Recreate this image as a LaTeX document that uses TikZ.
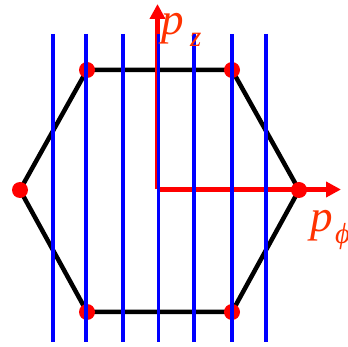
\documentclass[tikz,border=0pt]{standalone}
\usepackage{fontspec}
\setmainfont{Liberation Serif}
\usetikzlibrary{arrows.meta}
\definecolor{lblred}{RGB}{255,50,0}
\tikzset{
  hexline/.style={line width=4.5pt, black, line join=miter},
  vdot/.style={circle, fill=red, inner sep=0pt, minimum size=16pt},
  axisline/.style={line width=4.5pt, red, -{Triangle[length=15pt,width=15pt]}},
  cutline/.style={line width=3.5pt, blue},
  biglbl/.style={anchor=base west, inner sep=0pt, text=lblred, font=\fontsize{45}{45}\selectfont\itshape},
  sublbl/.style={anchor=base west, inner sep=0pt, text=lblred, font=\fontsize{29}{29}\selectfont\itshape}
}
\begin{document}
\begin{tikzpicture}[x=1pt,y=-1pt]
\useasboundingbox (0,0) rectangle (348,347);
% hexagon vertices
\coordinate (L) at (20,190);
\coordinate (TL) at (87,70);
\coordinate (TR) at (232,70);
\coordinate (R) at (299,190);
\coordinate (BR) at (232,312);
\coordinate (BL) at (87,312);
\draw[hexline] (L) -- (TL) -- (TR) -- (R) -- (BR) -- (BL) -- cycle;
\foreach \v in {L,TL,TR,R,BR,BL} \node[vdot] (d\v) at (\v) {};
% axes
\coordinate (O) at (157.5,189.5);
\coordinate (Ztip) at (157.5,4);
\coordinate (Ptip) at (341,189.5);
\draw[axisline] (O) -- (Ztip);
\draw[axisline] (O) -- (Ptip);
% blue lines
\foreach \x [count=\i] in {53,86,123,158.5,194,232,266} {
  \coordinate (b\i t) at (\x,34);
  \coordinate (b\i b) at (\x,342);
  \draw[cutline] (b\i t) -- (b\i b);
}
% labels
\node[biglbl] (pz) at (161,35) {p};
\node[sublbl] (pzs) at (190,47) {z};
\node[biglbl] (pp) at (310,232) {p};
\node[sublbl] (pps) at (335,244) {ϕ};
\end{tikzpicture}
\end{document}
